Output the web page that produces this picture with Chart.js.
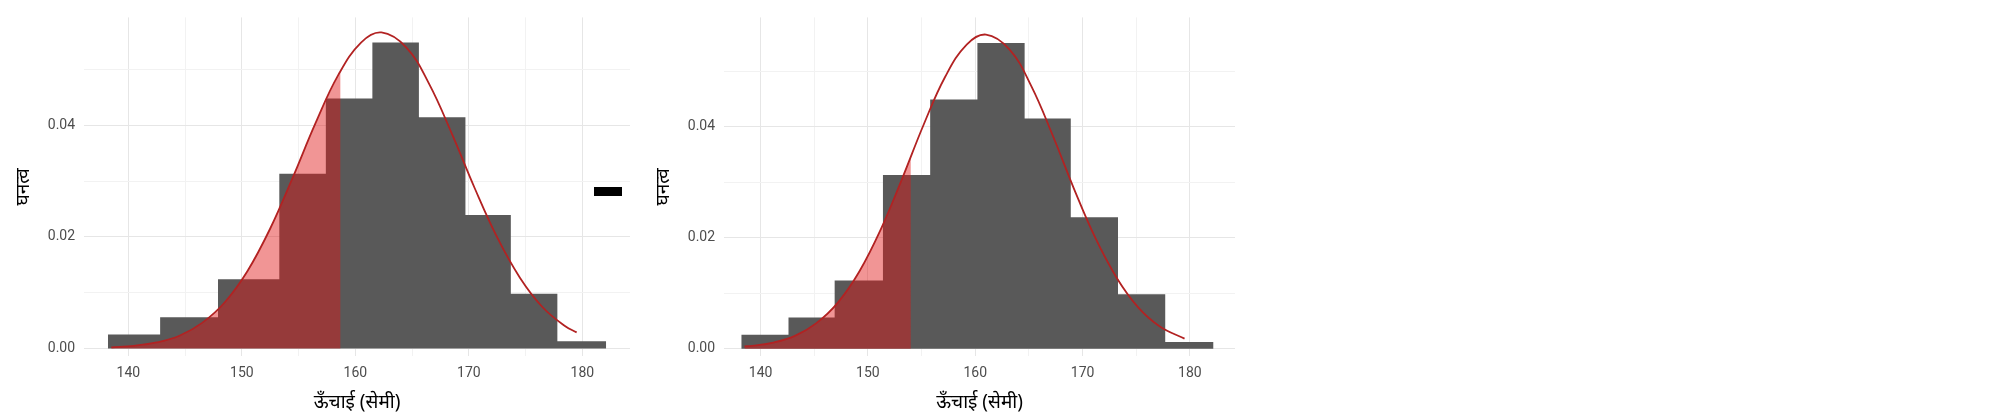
<!DOCTYPE html>
<html><head><meta charset="utf-8">
<script src="https://cdn.jsdelivr.net/npm/chart.js@4"></script>
<style>body{margin:0;background:#fff;width:2012px;height:414px;position:relative;overflow:hidden}
canvas{position:absolute;top:0}</style></head><body>
<canvas id="c1" style="left:0;width:640px;height:414px" width="640" height="414"></canvas>
<canvas id="c2" style="left:640px;width:605px;height:414px" width="605" height="414"></canvas>
<div style="position:absolute;left:594px;top:187px;width:28px;height:9px;background:#000"></div>
<script>
const binEdgesL=[138.2,142.8,147.9,153.3,157.4,161.5,165.6,169.7,173.7,177.8,182.1];
const binHeightsL=[0.0025,0.0056,0.0124,0.0313,0.0448,0.0548,0.0414,0.0239,0.0098,0.0013];
const binEdgesR=[138.2,142.6,146.9,151.4,155.8,160.2,164.6,168.9,173.3,177.7,182.2];
const binHeightsR=[0.0025,0.0056,0.0123,0.0313,0.0449,0.0551,0.0415,0.0237,0.0098,0.0012];
const curveXL=[138.5,140.5,142.5,144.5,146.5,148.5,150.5,152.5,154.5,156.5,158.5,160.5,162.3,164.5,166.5,168.5,170.5,172.5,174.5,176.5,178.5,179.5];
const curveYL=[0.0002,0.0005,0.0011,0.0023,0.0046,0.0083,0.0139,0.0215,0.0307,0.0404,0.0490,0.0548,0.0566,0.0539,0.0474,0.0385,0.0288,0.0199,0.0127,0.0074,0.0040,0.0029];
const curveXR=[138.5,139.2,141.2,143.2,145.2,147.2,149.2,151.2,153.2,155.2,157.2,159.2,161.0,163.2,165.2,167.2,169.2,171.2,173.2,175.2,177.2,179.5];
const curveYR=[0.0004,0.0005,0.0011,0.0023,0.0046,0.0083,0.0139,0.0215,0.0307,0.0404,0.0490,0.0548,0.0566,0.0539,0.0474,0.0385,0.0288,0.0199,0.0127,0.0074,0.0040,0.0018];
const cutL=158.7, cutYL=0.0497, cutR=154.0, cutYR=0.0346;
const xTicks=[140,145,150,155,160,165,170,175,180];
const yTicks=[0,0.01,0.02,0.03,0.04,0.05];
const xTitle='ऊँचाई (सेमी)', yTitle='घनत्व';

function make(id,edges,heights,cx,cy,cut,cutY,xmin,xmax,ymax){
  const bars=[];
  heights.forEach((h,i)=>{bars.push({x:edges[i],y:h});bars.push({x:edges[i+1],y:h});});
  bars.unshift({x:edges[0],y:0});bars.push({x:edges[edges.length-1],y:0});
  const curve=cx.map((x,i)=>({x,y:cy[i]}));
  const shade=curve.filter(p=>p.x<cut).concat([{x:cut,y:cutY}]);
  new Chart(document.getElementById(id),{type:'scatter',
    data:{datasets:[
      {order:3,data:bars,showLine:true,fill:'origin',backgroundColor:'#595959',borderColor:'#595959',borderWidth:0,pointRadius:0},
      {order:2,data:shade,showLine:true,fill:'origin',backgroundColor:'rgba(225,20,20,0.45)',borderWidth:0,pointRadius:0,tension:0.3},
      {order:1,data:curve,showLine:true,fill:false,borderColor:'#b22222',borderWidth:1.8,pointRadius:0,tension:0.4}
    ]},
    options:{responsive:false,animation:false,
      layout:{padding:{top:5,right:10,left:8,bottom:0}},
      plugins:{legend:{display:false},tooltip:{enabled:false}},
      scales:{
        x:{type:'linear',min:xmin,max:xmax,border:{display:false},
          afterBuildTicks:a=>{a.ticks=xTicks.map(v=>({value:v}));},
          grid:{color:c=>c.tick&&c.tick.value%10===0?'#e6e6e6':'#f2f2f2',drawTicks:false},
          ticks:{padding:9,color:'#4d4d4d',font:{family:'Roboto',size:14},callback:v=>v%10===0?v:''},
          title:{display:true,text:xTitle,color:'#000',font:{family:'Noto Sans',size:19},padding:{top:0,bottom:0}}},
        y:{type:'linear',min:-0.0014,max:ymax,border:{display:false},
          afterBuildTicks:a=>{a.ticks=yTicks.map(v=>({value:v}));},
          grid:{color:c=>c.tick&&Math.round(c.tick.value*100)%2===0?'#e6e6e6':'#f2f2f2',drawTicks:false},
          ticks:{padding:9,color:'#4d4d4d',font:{family:'Roboto',size:14},callback:v=>Math.round(v*100)%2===0?v.toFixed(2):''},
          title:{display:true,text:yTitle,color:'#000',font:{family:'Noto Sans',size:19}}}
      }}});
}
make('c1',binEdgesL,binHeightsL,curveXL,curveYL,cutL,cutYL,136.1,184.2,0.0593);
make('c2',binEdgesR,binHeightsR,curveXR,curveYR,cutR,cutYR,136.6,184.2,0.0597);
</script></body></html>
